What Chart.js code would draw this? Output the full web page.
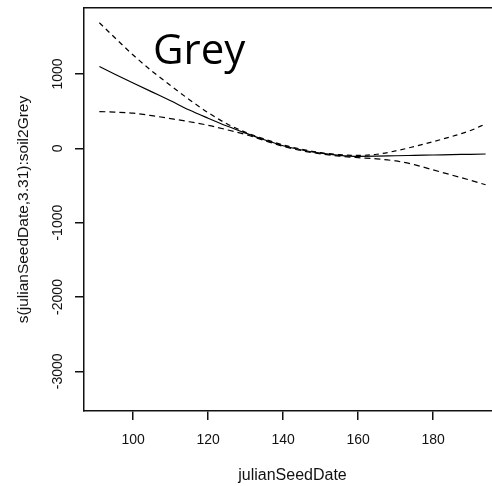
<!DOCTYPE html>
<html>
<head>
<meta charset="utf-8">
<script src="https://cdn.jsdelivr.net/npm/chart.js@4.4.1/dist/chart.umd.min.js"></script>
<style>
html, body { margin: 0; padding: 0; background: #fff; overflow: hidden; }
canvas { display: block; }
</style>
</head>
<body>
<canvas id="gamChart" width="501" height="486"></canvas>
<script>
// values
const days  = [91, 95, 100, 105, 110, 115, 120, 125, 130, 135, 140, 145, 150, 155, 160, 165, 170, 175, 180, 185, 190, 194]
const fit   = [1100, 1000, 880, 760, 640, 515, 405, 300, 205, 115, 35, -22, -65, -95, -108, -106, -100, -95, -90, -85, -80, -76]
const upper = [1690, 1494, 1256, 1040, 845, 655, 480, 330, 215, 125, 45, -12, -58, -85, -95, -80, -35, 25, 90, 160, 240, 330]
const lower = [495, 488, 473, 440, 400, 358, 310, 250, 185, 105, 28, -32, -75, -105, -125, -142, -170, -220, -290, -360, -430, -490]

const xTicks = [100, 120, 140, 160, 180]
const yTicks = [-3000, -2000, -1000, 0, 1000]

const ink = '#111'
const tickFont = { family: 'Liberation Sans', size: 14 }

const pts = vals => vals.map((v, i) => ({ x: days[i], y: v }))

// big "Grey" label inside the plot
const greyLabel = {
    id: 'greyLabel',
    afterDraw(chart) {
        const ctx = chart.ctx
        const area = chart.chartArea
        ctx.save()
        ctx.font = '42px "Open Sans"'
        ctx.fillStyle = '#000'
        ctx.textBaseline = 'alphabetic'
        ctx.fillText('Grey', area.left + 69, area.top + 56)
        ctx.restore()
    }
}

new Chart(document.getElementById('gamChart'), {
    type: 'line',
    data: {
        datasets: [
            { data: pts(fit), borderColor: '#000', borderWidth: 1.2 },
            { data: pts(upper), borderColor: '#000', borderWidth: 1.2, borderDash: [5, 4] },
            { data: pts(lower), borderColor: '#000', borderWidth: 1.2, borderDash: [6, 4] }
        ]
    },
    options: {
        responsive: false,
        animation: false,
        layout: { padding: 0 },
        elements: {
            point: { radius: 0 },
            line: { cubicInterpolationMode: 'monotone', fill: false }
        },
        plugins: { legend: { display: false }, tooltip: { enabled: false } },
        scales: {
            x: {
                type: 'linear',
                position: 'bottom',
                min: 86.9,
                max: 198.1,
                afterBuildTicks: s => { s.ticks = xTicks.map(v => ({ value: v })) },
                afterFit: s => { s.height = 75 },
                grid: { drawOnChartArea: false, drawTicks: true, tickLength: 9, color: ink, lineWidth: 1.5 },
                border: { display: true, color: ink, width: 1.5 },
                ticks: { font: tickFont, color: ink, padding: 12, maxRotation: 0, callback: v => String(v) },
                title: { display: true, text: 'julianSeedDate', color: ink,
                         font: { family: 'Liberation Sans', size: 16 }, padding: { top: 0, bottom: 1 } }
            },
            x2: {
                type: 'linear',
                position: 'top',
                min: 86.9,
                max: 198.1,
                afterBuildTicks: s => { s.ticks = [] },
                afterFit: s => { s.height = 8 },
                grid: { display: false },
                border: { display: true, color: ink, width: 1.5 },
                ticks: { display: false }
            },
            y: {
                type: 'linear',
                min: -3534,
                max: 1888,
                afterBuildTicks: s => { s.ticks = yTicks.map(v => ({ value: v })) },
                afterFit: s => { s.width = 84 },
                grid: { drawOnChartArea: false, drawTicks: true, tickLength: 9, color: ink, lineWidth: 1.5 },
                border: { display: true, color: ink, width: 1.5 },
                ticks: { font: tickFont, color: ink, padding: -1, minRotation: 90, maxRotation: 90,
                         crossAlign: 'center', callback: v => String(v) },
                title: { display: true, text: 's(julianSeedDate,3.31):soil2Grey', color: ink,
                         font: { family: 'Liberation Sans', size: 15.5 }, padding: { top: 14, bottom: 0 } }
            }
        }
    },
    plugins: [greyLabel]
})
</script>
</body>
</html>
